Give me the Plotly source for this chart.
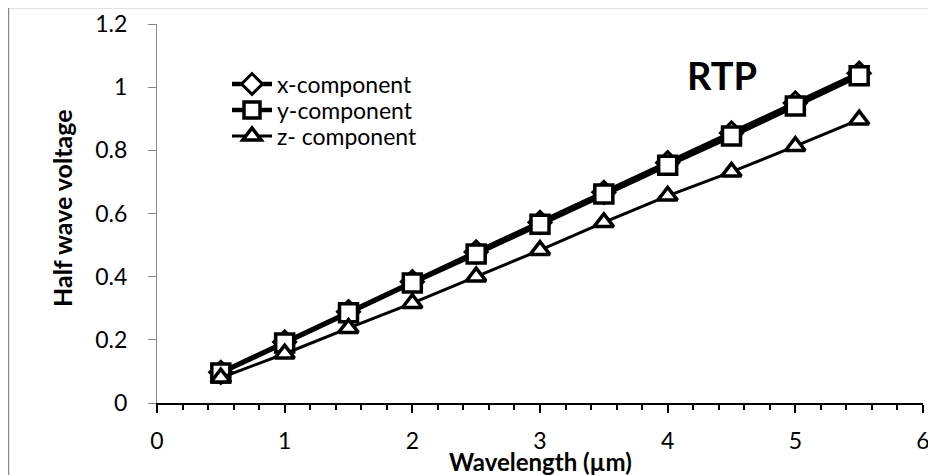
import plotly.graph_objects as go

wavelength = [0.5, 1.0, 1.5, 2.0, 2.5, 3.0, 3.5, 4.0, 4.5, 5.0, 5.5]
x_component = [0.097, 0.193, 0.289, 0.384, 0.478, 0.572, 0.667, 0.761, 0.855, 0.950, 1.044]
y_component = [0.095, 0.190, 0.286, 0.380, 0.472, 0.566, 0.662, 0.753, 0.845, 0.940, 1.036]
z_component = [0.080, 0.156, 0.237, 0.316, 0.400, 0.484, 0.572, 0.656, 0.732, 0.813, 0.897]

FONT = "Lato"
OFF = 8  # page body margin
W, H = 936 - OFF, 475 - OFF
L, R, T, B = 157 - OFF, 13, 24 - OFF, 72

pw = W - L - R
ph = H - T - B

def px(xp):
    return (xp - OFF - L) / pw

def py(yp):
    return (H - B - (yp - OFF)) / ph

fig = go.Figure()
fig.add_trace(go.Scatter(
    x=wavelength, y=x_component, name="x-component", mode="lines+markers",
    line=dict(color="black", width=4.5), legend="legend",
    marker=dict(symbol="diamond", size=17, color="white", line=dict(color="black", width=3)),
))
fig.add_trace(go.Scatter(
    x=wavelength, y=y_component, name="y-component", mode="lines+markers",
    line=dict(color="black", width=4.5), legend="legend2",
    marker=dict(symbol="square", size=18, color="white", line=dict(color="black", width=3.5)),
))
fig.add_trace(go.Scatter(
    x=wavelength, y=z_component, name="z- component", mode="lines+markers",
    line=dict(color="black", width=3), legend="legend3",
    marker=dict(symbol="triangle-up", size=17, color="white", line=dict(color="black", width=3.5)),
))

def leg(ypage):
    return dict(x=px(227), y=py(ypage), xanchor="left", yanchor="middle",
                bgcolor="rgba(0,0,0,0)", font=dict(size=23, family=FONT),
                itemwidth=40, borderwidth=0)

fig.update_layout(
    template="none",
    width=W, height=H,
    margin=dict(l=L, r=R, t=T, b=B, autoexpand=False),
    paper_bgcolor="white", plot_bgcolor="white",
    font=dict(family=FONT, size=23, color="black"),
    showlegend=True,
    legend=leg(84), legend2=leg(110), legend3=leg(136),
    xaxis=dict(range=[0, 6], tickmode="linear", tick0=0, dtick=1, automargin=False,
               showgrid=False, zeroline=False, showline=True, linecolor="black", linewidth=2,
               ticks="outside", ticklen=8, tickwidth=2, tickcolor="black",
               ticklabelstandoff=8,
               minor=dict(dtick=0.2, ticks="outside", ticklen=5, tickwidth=1.5, tickcolor="black",
                          showgrid=False),
               tickfont=dict(size=23, family=FONT), fixedrange=True),
    yaxis=dict(range=[0, 1.2], tickmode="linear", tick0=0, dtick=0.2, automargin=False,
               showgrid=False, zeroline=False, showline=True, linecolor="#868686", linewidth=1,
               ticks="outside", ticklen=8, tickwidth=1, tickcolor="#868686",
               ticklabelstandoff=16,
               tickfont=dict(size=23, family=FONT), fixedrange=True),
)

fig.add_annotation(text="<b>Wavelength (µm)</b>", xref="paper", yref="paper",
                   x=px(540), y=py(461), xanchor="center", yanchor="middle",
                   showarrow=False, font=dict(size=24, family=FONT))
fig.add_annotation(text="<b>Half wave voltage</b>", xref="paper", yref="paper",
                   x=px(62), y=py(208), xanchor="center", yanchor="middle",
                   showarrow=False, textangle=-90, font=dict(size=25, family=FONT))
fig.add_annotation(text="<b>RTP</b>", xref="paper", yref="paper",
                   x=px(722), y=py(75), xanchor="center", yanchor="middle",
                   showarrow=False, font=dict(size=38, family=FONT))

fig.add_shape(type="rect", xref="paper", yref="paper",
              x0=px(8.5), y0=py(500), x1=px(960), y1=py(7.5),
              line=dict(color="#8a8a8a", width=1.5), fillcolor="rgba(0,0,0,0)", layer="below")

fig.write_html("out.html")
